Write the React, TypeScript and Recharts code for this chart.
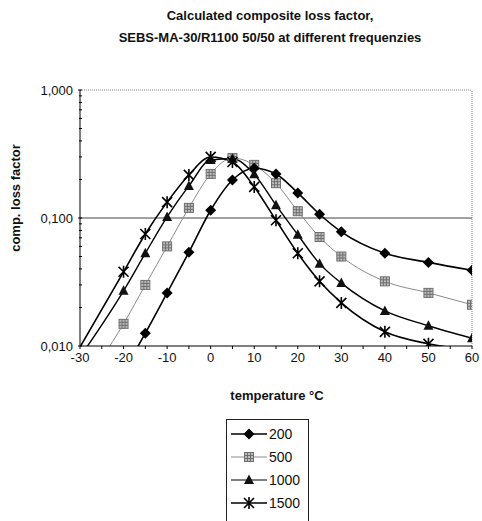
import React from "react";
import {
  Legend,
  Line,
  LineChart,
  ReferenceLine,
  XAxis,
  YAxis,
} from "recharts";

const temps = [-30, -20, -15, -10, -5, 0, 5, 10, 15, 20, 25, 30, 40, 50, 60];

// loss factor per frequency (values below 0,010 run off the bottom of the plot)
const f200 = [null, 0.0063, 0.0126, 0.026, 0.054, 0.115, 0.198, 0.245, 0.221, 0.157, 0.107, 0.078, 0.053, 0.045, 0.039];
const f500 = [0.0046, 0.0149, 0.03, 0.06, 0.12, 0.221, 0.294, 0.26, 0.187, 0.113, 0.071, 0.05, 0.032, 0.026, 0.021];
const f1000 = [0.0082, 0.027, 0.053, 0.102, 0.178, 0.284, 0.29, 0.22, 0.126, 0.074, 0.044, 0.031, 0.0188, 0.0144, 0.0115];
const f1500 = [0.0098, 0.038, 0.075, 0.133, 0.217, 0.3, 0.274, 0.175, 0.096, 0.053, 0.032, 0.0217, 0.0129, 0.0104, 0.0093];

const xTicks = [-30, -25, -20, -15, -10, -5, 0, 5, 10, 15, 20, 25, 30, 35, 40, 45, 50, 55, 60];
const yTicks = [
  0.01, 0.02, 0.03, 0.04, 0.05, 0.06, 0.07, 0.08, 0.09,
  0.1, 0.2, 0.3, 0.4, 0.5, 0.6, 0.7, 0.8, 0.9, 1,
];
const yMajor = [0.01, 0.1, 1];
const yLabels: Record<string, string> = { "0.01": "0,010", "0.1": "0,100", "1": "1,000" };

const title1 = "Calculated composite loss factor,";
const title2 = "SEBS-MA-30/R1100 50/50 at different frequenzies";

const data = temps.map((t, i) => ({
  t,
  f200: f200[i],
  f500: f500[i],
  f1000: f1000[i],
  f1500: f1500[i],
}));

const FONT = "'Liberation Sans', Arial, sans-serif";

type Shape = "diamond" | "square" | "triangle" | "star";

function Marker({ shape, cx, cy }: { shape: Shape; cx: number; cy: number }) {
  if (shape === "diamond") {
    return (
      <path
        d={`M${cx},${cy - 5.5} L${cx + 5.5},${cy} L${cx},${cy + 5.5} L${cx - 5.5},${cy} Z`}
        fill="#000"
      />
    );
  }
  if (shape === "square") {
    return (
      <g>
        <rect x={cx - 4.5} y={cy - 4.5} width={9} height={9} fill="#bdbdbd" stroke="#6e6e6e" strokeWidth={1} />
        <path
          d={`M${cx - 1.5},${cy - 4.5} V${cy + 4.5} M${cx + 1.5},${cy - 4.5} V${cy + 4.5} M${cx - 4.5},${cy - 1.5} H${cx + 4.5} M${cx - 4.5},${cy + 1.5} H${cx + 4.5}`}
          stroke="#6e6e6e"
          strokeWidth={1}
        />
      </g>
    );
  }
  if (shape === "triangle") {
    return (
      <path d={`M${cx},${cy - 5.5} L${cx + 5},${cy + 4} L${cx - 5},${cy + 4} Z`} fill="#111" />
    );
  }
  return (
    <path
      d={`M${cx - 5},${cy - 5} L${cx + 5},${cy + 5} M${cx + 5},${cy - 5} L${cx - 5},${cy + 5} M${cx},${cy - 6} V${cy + 6}`}
      stroke="#000"
      strokeWidth={1.6}
    />
  );
}

const dotFor = (shape: Shape, key: string) => (props: any) => {
  const v = props.payload?.[key];
  if (v == null || v < 0.01 || props.cx == null || props.cy == null) {
    return <g key={props.key ?? `${key}-${props.index}`} />;
  }
  return (
    <g key={props.key ?? `${key}-${props.index}`}>
      <Marker shape={shape} cx={props.cx} cy={props.cy} />
    </g>
  );
};

function YTick(props: any) {
  const { x, y, payload } = props;
  const v = payload.value;
  const major = yMajor.includes(v);
  return (
    <g>
      <line x1={major ? x + 6 : x + 7} x2={x + 10} y1={y} y2={y} stroke="#000" strokeWidth={1} />
      {major && (
        <text x={x + 1} y={y} dy={4.5} textAnchor="end" fontSize={13} fontFamily={FONT} fill="#111">
          {yLabels[String(v)]}
        </text>
      )}
    </g>
  );
}

function XTick(props: any) {
  const { x, y, payload } = props;
  const v = payload.value;
  const major = v % 10 === 0;
  return (
    <g>
      <line x1={x} x2={x} y1={y - 8} y2={y - 5} stroke="#000" strokeWidth={1} />
      {major && (
        <text x={x} y={y + 8} textAnchor="middle" fontSize={13} fontFamily={FONT} fill="#111">
          {v}
        </text>
      )}
    </g>
  );
}

const legendItems: { name: string; shape: Shape; color: string; width: number }[] = [
  { name: "200", shape: "diamond", color: "#000", width: 1.4 },
  { name: "500", shape: "square", color: "#8a8a8a", width: 1 },
  { name: "1000", shape: "triangle", color: "#000", width: 1.2 },
  { name: "1500", shape: "star", color: "#000", width: 1.4 },
];

function LegendBox() {
  return (
    <div
      style={{
        width: 83,
        height: 110,
        border: "1px solid #222",
        boxSizing: "border-box",
        background: "#fff",
        paddingTop: 2,
      }}
    >
      {legendItems.map((it) => (
        <div key={it.name} style={{ display: "flex", alignItems: "center", height: 23 }}>
          <svg width={40} height={16} style={{ marginLeft: 4 }}>
            <line x1={0} x2={36} y1={8} y2={8} stroke={it.color} strokeWidth={it.width} />
            <Marker shape={it.shape} cx={18} cy={8} />
          </svg>
          <span style={{ fontFamily: FONT, fontSize: 14, color: "#111", marginLeft: -2 }}>{it.name}</span>
        </div>
      ))}
    </div>
  );
}

export default function App() {
  return (
    <div style={{ position: "absolute", left: 0, top: 0, width: 482, height: 521, background: "#fff", overflow: "hidden" }}>
      <div
        style={{
          position: "absolute",
          left: 0,
          top: 5,
          width: 540,
          textAlign: "center",
          fontFamily: FONT,
          fontWeight: "bold",
          fontSize: 13,
          lineHeight: "22px",
          color: "#111",
        }}
      >
        <div>{title1}</div>
        <div>{title2}</div>
      </div>
      <div
        style={{
          position: "absolute",
          left: 15,
          top: 198,
          transform: "translate(-50%, -50%) rotate(-90deg)",
          fontFamily: FONT,
          fontWeight: "bold",
          fontSize: 13,
          whiteSpace: "nowrap",
          color: "#111",
        }}
      >
        comp. loss factor
      </div>
      <div
        style={{
          position: "absolute",
          left: 277,
          top: 395,
          transform: "translate(-50%, -50%)",
          fontFamily: FONT,
          fontWeight: "bold",
          fontSize: 13,
          whiteSpace: "nowrap",
          color: "#111",
        }}
      >
        temperature °C
      </div>
      <LineChart
        width={482}
        height={521}
        data={data}
        margin={{ top: 90, right: 10, bottom: 135, left: 0 }}
        style={{ position: "absolute", left: 0, top: 0 }}
      >
        <XAxis
          dataKey="t"
          type="number"
          domain={[-30, 60]}
          ticks={xTicks}
          interval={0}
          allowDataOverflow
          tick={<XTick />}
          tickLine={false}
          axisLine={{ stroke: "#000", strokeWidth: 1 }}
          height={40}
        />
        <YAxis
          scale="log"
          domain={[0.01, 1]}
          ticks={yTicks}
          interval={0}
          allowDataOverflow
          tick={<YTick />}
          tickLine={false}
          axisLine={{ stroke: "#000", strokeWidth: 1 }}
          width={80}
        />
        <ReferenceLine y={0.1} stroke="#444" strokeWidth={1} />
        <ReferenceLine y={1} stroke="#888" strokeWidth={1} strokeDasharray="1 1" />
        <ReferenceLine x={60} stroke="#888" strokeWidth={1} strokeDasharray="1 1" />
        <Line
          dataKey="f500"
          type="monotone"
          stroke="#8a8a8a"
          strokeWidth={1}
          connectNulls
          dot={dotFor("square", "f500")}
          isAnimationActive={false}
        />
        <Line
          dataKey="f200"
          type="monotone"
          stroke="#000"
          strokeWidth={1.6}
          connectNulls
          dot={dotFor("diamond", "f200")}
          isAnimationActive={false}
        />
        <Line
          dataKey="f1000"
          type="monotone"
          stroke="#000"
          strokeWidth={1.4}
          connectNulls
          dot={dotFor("triangle", "f1000")}
          isAnimationActive={false}
        />
        <Line
          dataKey="f1500"
          type="monotone"
          stroke="#000"
          strokeWidth={1.6}
          connectNulls
          dot={dotFor("star", "f1500")}
          isAnimationActive={false}
        />
        <Legend
          layout="vertical"
          align="center"
          verticalAlign="middle"
          content={() => <LegendBox />}
          wrapperStyle={{ position: "absolute", left: 226, top: 419, width: 83, height: 110 }}
        />
      </LineChart>
    </div>
  );
}
